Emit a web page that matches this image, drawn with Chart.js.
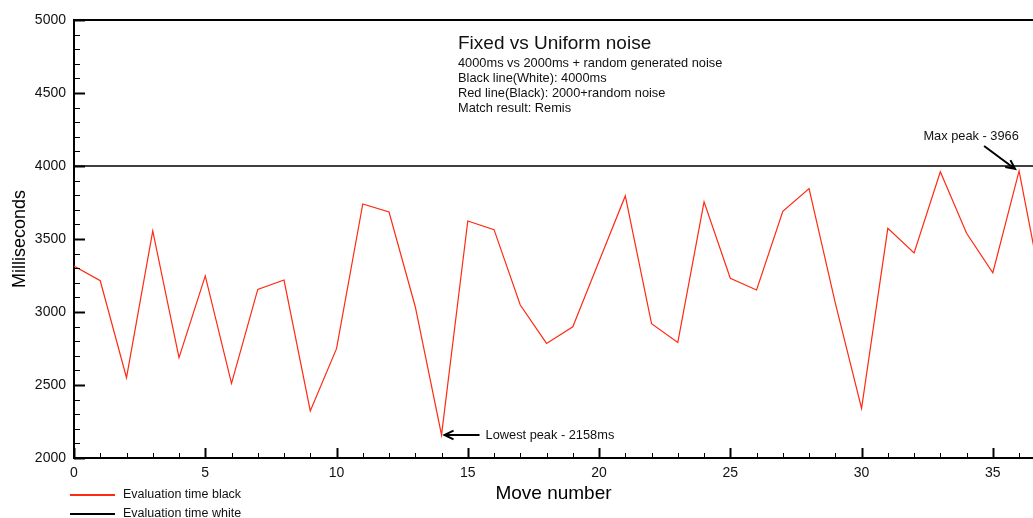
<!DOCTYPE html>
<html>
<head>
<meta charset="utf-8">
<title>Fixed vs Uniform noise</title>
<script src="https://cdn.jsdelivr.net/npm/chart.js@4.4.1/dist/chart.umd.min.js"></script>
<style>
    html, body { margin: 0; padding: 0; background: #fff; }
    #wrap { position: relative; width: 1033px; height: 518px; }
</style>
</head>
<body>
<div id="wrap"><canvas id="evalChart"></canvas></div>
<script>
// data
const moves = [0, 1, 2, 3, 4, 5, 6, 7, 8, 9, 10, 11, 12, 13, 14, 15, 16, 17, 18, 19,
    20, 21, 22, 23, 24, 25, 26, 27, 28, 29, 30, 31, 32, 33, 34, 35, 36, 37];
const blackTimes = [3315, 3214, 2550, 3555, 2687, 3247, 2511, 3155, 3219, 2322,
    2749, 3740, 3685, 3036, 2158, 3623, 3564, 3048, 2785, 2899,
    3347, 3795, 2920, 2792, 3755, 3231, 3151, 3689, 3845, 3060,
    2340, 3573, 3404, 3961, 3539, 3269, 3966, 3035];
const whiteTimes = [4000, 4000, 4000, 4000, 4000, 4000, 4000, 4000, 4000, 4000,
    4000, 4000, 4000, 4000, 4000, 4000, 4000, 4000, 4000, 4000,
    4000, 4000, 4000, 4000, 4000, 4000, 4000, 4000, 4000, 4000,
    4000, 4000, 4000, 4000, 4000, 4000, 4000, 4000];
const seriesLabels = ["Evaluation time black", "Evaluation time white"];
const seriesColors = ["#ff2a12", "#000000"];

const titleText = "Fixed vs Uniform noise";
const subtitleLines = [
    "4000ms vs 2000ms + random generated noise",
    "Black line(White): 4000ms",
    "Red line(Black): 2000+random noise",
    "Match result: Remis"
];
const lowPeak = { move: 14, value: 2158, text: "Lowest peak - 2158ms" };
const maxPeak = { move: 36, value: 3966, text: "Max peak - 3966" };

const FONT = "'Liberation Sans', Arial, Helvetica, sans-serif";
Chart.defaults.font.family = FONT;
Chart.defaults.color = "#111";

function arrow(ctx, x1, y1, x2, y2) {
    // line from (x1,y1) with an open head at (x2,y2)
    const a = Math.atan2(y2 - y1, x2 - x1);
    ctx.beginPath();
    ctx.moveTo(x1, y1);
    ctx.lineTo(x2, y2);
    ctx.moveTo(x2 - 10 * Math.cos(a - 0.45), y2 - 10 * Math.sin(a - 0.45));
    ctx.lineTo(x2, y2);
    ctx.lineTo(x2 - 10 * Math.cos(a + 0.45), y2 - 10 * Math.sin(a + 0.45));
    ctx.stroke();
}

const decorations = {
    id: "decorations",
    afterDraw(chart) {
        const ctx = chart.ctx;
        const area = chart.chartArea;
        const xs = chart.scales.x;
        const ys = chart.scales.y;
        ctx.save();
        ctx.strokeStyle = "#000";

        // top frame line
        ctx.lineWidth = 2;
        ctx.beginPath();
        ctx.moveTo(area.left, area.top);
        ctx.lineTo(area.right, area.top);
        ctx.stroke();

        // tick marks pointing into the plot
        ys.ticks.forEach(t => {
            const py = Math.round(ys.getPixelForValue(t.value)) + 0.5;
            const major = t.value % 500 === 0;
            ctx.lineWidth = major ? 2 : 1;
            ctx.beginPath();
            ctx.moveTo(area.left, py);
            ctx.lineTo(area.left + (major ? 11 : 6), py);
            ctx.stroke();
        });
        xs.ticks.forEach(t => {
            const px = Math.round(xs.getPixelForValue(t.value)) + 0.5;
            const major = t.value % 5 === 0;
            ctx.lineWidth = major ? 2 : 1;
            ctx.beginPath();
            ctx.moveTo(px, area.bottom);
            ctx.lineTo(px, area.bottom - (major ? 10 : 5));
            ctx.stroke();
        });

        // title block
        ctx.fillStyle = "#111";
        ctx.textBaseline = "middle";
        ctx.textAlign = "left";
        const tx = area.left + 384;
        ctx.font = "19px " + FONT;
        ctx.fillText(titleText, tx, area.top + 24);
        ctx.font = "12.8px " + FONT;
        subtitleLines.forEach((line, i) => {
            ctx.fillText(line, tx, area.top + 43 + i * 15);
        });

        // annotations
        ctx.lineWidth = 2;
        const lx = xs.getPixelForValue(lowPeak.move) + 3;
        const ly = ys.getPixelForValue(lowPeak.value);
        arrow(ctx, lx + 35, ly, lx, ly);
        ctx.font = "12.8px " + FONT;
        ctx.fillText(lowPeak.text, lx + 41, ly + 1);

        const mx = xs.getPixelForValue(maxPeak.move) - 4;
        const my = ys.getPixelForValue(maxPeak.value) - 2;
        arrow(ctx, mx - 31, my - 23, mx, my);
        ctx.textAlign = "center";
        ctx.fillText(maxPeak.text, mx - 44, my - 32);

        // legend under the axis
        ctx.textAlign = "left";
        chart.data.datasets.forEach((ds, i) => {
            const ly2 = 495 + i * 19;
            ctx.strokeStyle = ds.borderColor;
            ctx.lineWidth = 2;
            ctx.beginPath();
            ctx.moveTo(70, ly2);
            ctx.lineTo(115, ly2);
            ctx.stroke();
            ctx.fillStyle = "#111";
            ctx.font = "12.5px " + FONT;
            ctx.fillText(ds.label, 123, ly2);
        });
        ctx.restore();
    }
};

new Chart(document.getElementById("evalChart"), {
    type: "line",
    data: {
        datasets: [
            {
                label: seriesLabels[0],
                data: moves.map((m, i) => ({ x: m, y: blackTimes[i] })),
                borderColor: seriesColors[0],
                borderWidth: 1.2,
                pointRadius: 0,
                tension: 0
            },
            {
                label: seriesLabels[1],
                data: moves.map((m, i) => ({ x: m, y: whiteTimes[i] })),
                borderColor: seriesColors[1],
                borderWidth: 1.5,
                pointRadius: 0,
                tension: 0
            }
        ]
    },
    options: {
        responsive: true,
        maintainAspectRatio: false,
        animation: false,
        layout: { padding: { top: 20, left: 0, right: 0, bottom: 0 } },
        plugins: {
            legend: { display: false },
            tooltip: { enabled: false }
        },
        scales: {
            x: {
                type: "linear",
                min: 0,
                max: 36.53,
                grid: { display: false, drawTicks: false, tickLength: 0 },
                border: { display: true, color: "#000", width: 2 },
                ticks: {
                    stepSize: 1,
                    autoSkip: false,
                    includeBounds: false,
                    maxRotation: 0,
                    padding: 7,
                    font: { size: 14 },
                    callback: v => (v % 5 === 0 ? v : "")
                },
                title: {
                    display: true,
                    text: "Move number",
                    color: "#000",
                    font: { size: 19 },
                    padding: { top: 0, bottom: 13 }
                },
                afterFit: s => { s.height = 60; }
            },
            y: {
                min: 2000,
                max: 5000,
                grid: { display: false, drawTicks: false, tickLength: 0 },
                border: { display: true, color: "#000", width: 2 },
                ticks: {
                    stepSize: 100,
                    autoSkip: false,
                    padding: 8,
                    font: { size: 14 },
                    callback: v => (v % 500 === 0 ? v : "")
                },
                title: {
                    display: true,
                    text: "Milliseconds",
                    color: "#000",
                    font: { size: 18 },
                    padding: { top: 9, bottom: 0 }
                },
                afterFit: s => { s.width = 74; }
            }
        }
    },
    plugins: [decorations]
});
</script>
</body>
</html>
